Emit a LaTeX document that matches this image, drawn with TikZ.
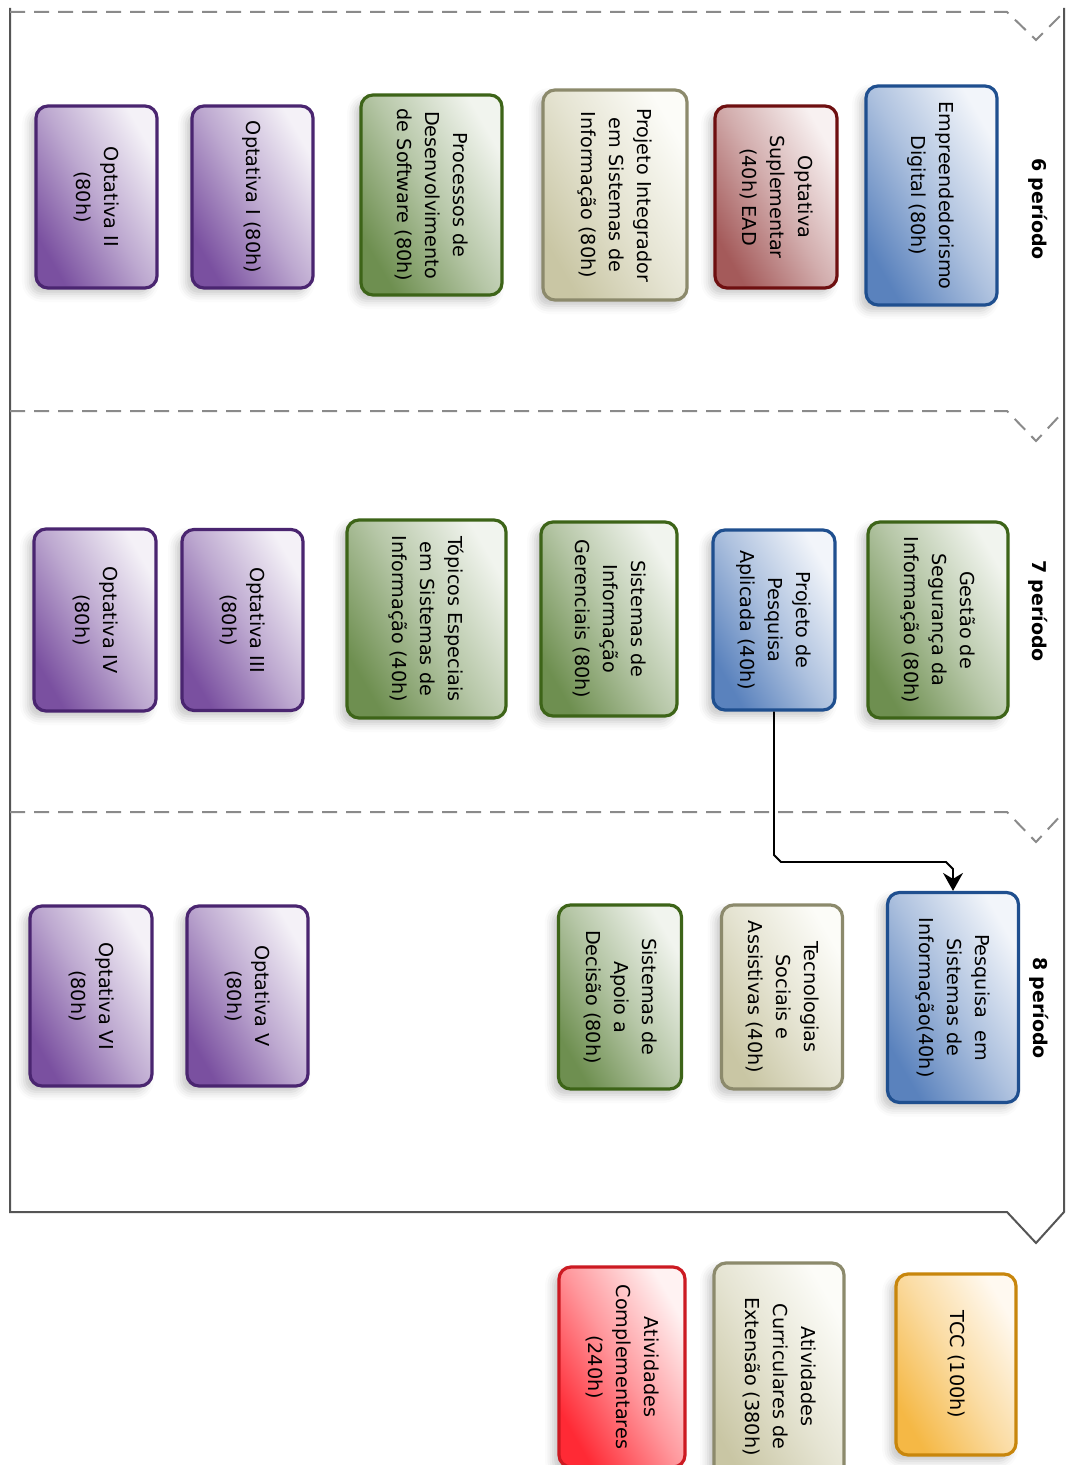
\documentclass[tikz,border=0pt]{standalone}
\usepackage{fontspec}
\setmainfont{DejaVu Sans}
\usetikzlibrary{shadows.blur,arrows.meta,calc}
\definecolor{bluebd}{HTML}{1F4F8F}\definecolor{bluedk}{HTML}{5A82BD}\definecolor{bluelt}{HTML}{F2F5FA}
\definecolor{marbd}{HTML}{6E0F10}\definecolor{mardk}{HTML}{A45A5A}\definecolor{marlt}{HTML}{F8F1F1}
\definecolor{beibd}{HTML}{8C8A6C}\definecolor{beidk}{HTML}{C9C6A4}\definecolor{beilt}{HTML}{FCFCF8}
\definecolor{grebd}{HTML}{3D6418}\definecolor{gredk}{HTML}{6E8F50}\definecolor{grelt}{HTML}{F1F4EE}
\definecolor{purbd}{HTML}{4A2570}\definecolor{purdk}{HTML}{7A50A0}\definecolor{purlt}{HTML}{F4F1F7}
\definecolor{orabd}{HTML}{C8860C}\definecolor{oradk}{HTML}{F5B845}\definecolor{oralt}{HTML}{FFF9F0}
\definecolor{redbd}{HTML}{CC1A22}\definecolor{reddk}{HTML}{FF2A35}\definecolor{redlt}{HTML}{FFF2F2}
\definecolor{framec}{HTML}{555555}\definecolor{dashc}{HTML}{8A8A8A}
\newcommand\rtxt[1]{\rotatebox{-90}{\fontsize{9.6}{14}\selectfont\begin{tabular}{@{}c@{}}#1\end{tabular}}}
\tikzset{
  sz/.style 2 args={minimum width=#1*0.5pt, minimum height=#2*0.5pt},
  course/.style={rounded corners=6pt, line width=1.6pt, inner sep=0pt, align=center,
    blur shadow={shadow xshift=-3pt, shadow yshift=-3pt, shadow blur radius=4pt, shadow opacity=22}},
  cshade/.style n args={3}{course, draw=#1, top color=#3, bottom color=#2, middle color=#2!45!#3, shading angle=-60},
  cblue/.style={cshade={bluebd}{bluedk}{bluelt}},
  cmaroon/.style={cshade={marbd}{mardk}{marlt}},
  cbeige/.style={cshade={beibd}{beidk}{beilt}},
  cgreen/.style={cshade={grebd}{gredk}{grelt}},
  cpurple/.style={cshade={purbd}{purdk}{purlt}},
  corange/.style={cshade={orabd}{oradk}{oralt}},
  cred/.style={cshade={redbd}{reddk}{redlt}},
  plabel/.style={font=\fontsize{9.5}{11}\selectfont\bfseries, rotate=-90, inner sep=0pt},
  frameline/.style={draw=framec, line width=1pt},
  sepline/.style={draw=dashc, line width=1pt, dash pattern=on 7.5pt off 4.5pt},
  arrowline/.style={draw=black, line width=0.9pt, -{Stealth[length=9pt,width=10pt,inset=3pt,sharp]}}
}
\begin{document}
\begin{tikzpicture}[x=0.5pt,y=-0.5pt]
\useasboundingbox (0,0) rectangle (1069,1465);
\clip (0,0) rectangle (1069,1465);
% frame
\draw[frameline] (10,8) -- (10,1212) -- (1007,1212) -- (1036,1243) -- (1064,1212) -- (1064,8);
\draw[sepline] (10,12) -- (1007,12) -- (1036,40) -- (1064,12);
\draw[sepline] (10,411) -- (1007,411) -- (1036,441) -- (1064,411);
\draw[sepline] (10,812) -- (1007,812) -- (1036,842) -- (1064,812);
% period labels
\node[plabel] (p6) at (1038,209) {6 período};
\node[plabel] (p7) at (1038,611) {7 período};
\node[plabel] (p8) at (1039,1008) {8 período};
% period 6
\node[cblue,   sz={131}{219}] (emp)  at (931.5,195.5) {\rtxt{Empreendedorismo\\Digital (80h)}};
\node[cmaroon, sz={122}{182}] (osup) at (776,197)   {\rtxt{Optativa\\Suplementar\\(40h) EAD}};
\node[cbeige,  sz={144}{210}] (pisi) at (615,195)   {\rtxt{Projeto Integrador\\em Sistemas de\\Informação (80h)}};
\node[cgreen,  sz={141}{200}] (pds)  at (431.5,195) {\rtxt{Processos de\\Desenvolvimento\\de Software (80h)}};
\node[cpurple, sz={121}{182}] (op1)  at (252.5,197) {\rtxt{Optativa I (80h)}};
\node[cpurple, sz={121}{182}] (op2)  at (96.5,197)  {\rtxt{Optativa II\\(80h)}};
% period 7
\node[cgreen,  sz={140}{196}] (gsi)  at (938,620)   {\rtxt{Gestão de\\Segurança da\\Informação (80h)}};
\node[cblue,   sz={122}{180}] (ppa)  at (774,620)   {\rtxt{Projeto de\\Pesquisa\\Aplicada (40h)}};
\node[cgreen,  sz={136}{194}] (sig)  at (609,619)   {\rtxt{Sistemas de\\Informação\\Gerenciais (80h)}};
\node[cgreen,  sz={159}{198}] (tesi) at (426.5,619) {\rtxt{Tópicos Especiais\\em Sistemas de\\Informação (40h)}};
\node[cpurple, sz={121}{181}] (op3)  at (242.5,620) {\rtxt{Optativa III\\(80h)}};
\node[cpurple, sz={122}{182}] (op4)  at (95,620)    {\rtxt{Optativa IV\\(80h)}};
% period 8
\node[cblue,   sz={131}{210}] (pesq) at (953,997.5) {\rtxt{Pesquisa\ \ em\\Sistemas de\\Informação(40h)}};
\node[cbeige,  sz={121}{184}] (tsa)  at (782,997)   {\rtxt{Tecnologias\\Sociais e\\Assistivas (40h)}};
\node[cgreen,  sz={123}{184}] (sad)  at (620,997)   {\rtxt{Sistemas de\\Apoio a\\Decisão (80h)}};
\node[cpurple, sz={121}{180}] (op5)  at (247.5,996) {\rtxt{Optativa V\\(80h)}};
\node[cpurple, sz={122}{180}] (op6)  at (91,996)    {\rtxt{Optativa VI\\(80h)}};
% extra
\node[corange, sz={120}{181}] (tcc)  at (956,1364.5) {\rtxt{TCC (100h)}};
\node[cbeige,  sz={130}{227}] (ace)  at (779,1376.5) {\rtxt{Atividades\\Curriculares de\\Extensão (380h)}};
\node[cred,    sz={126}{200}] (acomp) at (622,1367)  {\rtxt{Atividades\\Complementares\\(240h)}};
% connector
\coordinate (bend) at (774,862);
\draw[arrowline] (ppa.south) -- ($(ppa.south |- bend)+(0,-7)$) -- ($(ppa.south |- bend)+(7,0)$)
  -- ($(pesq.north |- bend)+(-7,0)$) -- ($(pesq.north |- bend)+(0,7)$) -- (pesq.north);
\end{tikzpicture}
\end{document}
